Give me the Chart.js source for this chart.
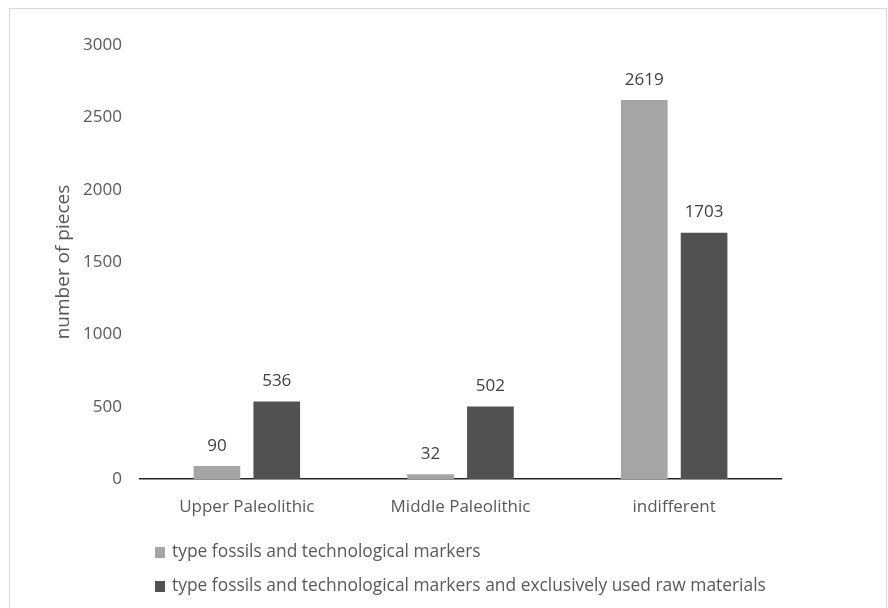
<!DOCTYPE html>
<html>
<head>
<meta charset="utf-8">
<script src="https://cdn.jsdelivr.net/npm/chart.js@4"></script>
<style>
  body { margin: 0; background: #fff; }
  #box { position: absolute; left: 9px; top: 8px; width: 878px; height: 620px; border: 1px solid #d9d9d9; box-sizing: border-box; }
  #wrap { position: absolute; left: 0; top: 0; width: 876px; height: 600px; }
</style>
</head>
<body>
<div id="box"><div id="wrap"><canvas id="myChart"></canvas></div></div>
<script>
const categorias = ["Upper Paleolithic", "Middle Paleolithic", "indifferent"];
const serie_nombres = [
  "type fossils and technological markers",
  "type fossils and technological markers and exclusively used raw materials"
];
const valores_marcadores = [90, 32, 2619];
const valores_materiales = [536, 502, 1703];
const ticks_y = [0, 500, 1000, 1500, 2000, 2500, 3000];

const fuente = "'Open Sans', sans-serif";
const gris_texto = "#595959";

/* etiquetas encima de las barras */
const etiquetasBarras = {
  id: "etiquetasBarras",
  afterDatasetsDraw(chart) {
    const ctx = chart.ctx;
    ctx.save();
    ctx.font = "17px " + fuente;
    ctx.fillStyle = "#404040";
    ctx.textAlign = "center";
    ctx.textBaseline = "middle";
    chart.data.datasets.forEach((ds, i) => {
      chart.getDatasetMeta(i).data.forEach((bar, j) => {
        ctx.fillText(ds.data[j], bar.x, bar.y - 20);
      });
    });
    ctx.restore();
  }
};

/* leyenda vertical abajo a la izquierda */
const leyendaAbajo = {
  id: "leyendaAbajo",
  afterDraw(chart) {
    const ctx = chart.ctx;
    const x0 = chart.chartArea.left + 15;
    const filas = [543, 577];
    ctx.save();
    ctx.font = "17.4px " + fuente;
    ctx.textBaseline = "middle";
    chart.data.datasets.forEach((ds, i) => {
      ctx.fillStyle = ds.backgroundColor;
      ctx.fillRect(x0, filas[i] - 5, 10, 11);
      ctx.fillStyle = gris_texto;
      ctx.fillText(ds.label, x0 + 17, filas[i]);
    });
    ctx.restore();
  }
};

const data = {
  labels: categorias,
  datasets: [
    { label: serie_nombres[0], data: valores_marcadores, backgroundColor: "#a5a5a5" },
    { label: serie_nombres[1], data: valores_materiales, backgroundColor: "#505150" }
  ]
};

const config = {
  type: "bar",
  data,
  options: {
    responsive: true,
    maintainAspectRatio: false,
    animation: false,
    categoryPercentage: 0.56,
    barPercentage: 0.78,
    layout: { padding: { top: 36, right: 105, bottom: 90, left: 0 } },
    plugins: {
      legend: { display: false },
      tooltip: { enabled: false }
    },
    scales: {
      x: {
        grid: { display: false, drawTicks: false },
        border: { display: true, color: "#262626", width: 1.5 },
        ticks: { color: gris_texto, font: { family: fuente, size: 17 }, padding: 18 },
        afterFit(scale) { scale.height = 40; }
      },
      y: {
        min: 0,
        max: 3000,
        afterBuildTicks(scale) { scale.ticks = ticks_y.map(v => ({ value: v })); },
        grid: { display: false, drawTicks: false },
        border: { display: false },
        ticks: {
          color: gris_texto,
          font: { family: fuente, size: 17 },
          padding: 18,
          callback: (v) => String(v)
        },
        title: {
          display: true,
          text: "number of pieces",
          color: gris_texto,
          font: { family: fuente, size: 19 },
          padding: { top: 42, bottom: 0 }
        },
        afterFit(scale) { scale.width = 130; }
      }
    }
  },
  plugins: [etiquetasBarras, leyendaAbajo]
};

const ctx = document.getElementById("myChart").getContext("2d");
const myChart = new Chart(ctx, config);
</script>
</body>
</html>
